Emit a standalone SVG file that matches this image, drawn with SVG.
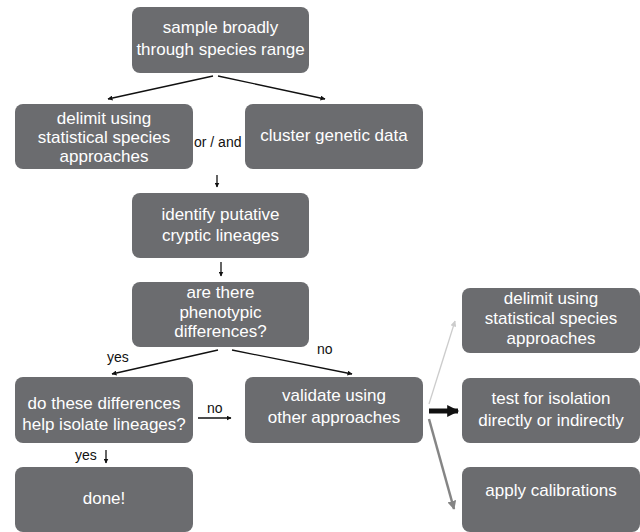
<svg xmlns="http://www.w3.org/2000/svg" width="640" height="532" viewBox="0 0 640 532">
<defs>
<style>
.box{fill:#6b6c6f;}
.t{font-family:"Liberation Sans",Arial,sans-serif;font-size:17px;fill:#ffffff;text-anchor:middle;}
.lbl{font-family:"Liberation Sans",Arial,sans-serif;font-size:14px;fill:#111111;}
.ln{stroke:#111111;stroke-width:1.3;fill:none;}
</style>
<marker id="ah" viewBox="0 0 10 10" refX="9" refY="5" markerWidth="5" markerHeight="5" markerUnits="userSpaceOnUse" orient="auto"><path d="M0,0 L10,5 L0,10 z" fill="#111111"/></marker>
<marker id="ahl" viewBox="0 0 10 10" refX="9" refY="5" markerWidth="6" markerHeight="6" markerUnits="userSpaceOnUse" orient="auto"><path d="M0,0 L10,5 L0,10 z" fill="#cccccc"/></marker>
<marker id="ahm" viewBox="0 0 10 10" refX="9" refY="5" markerWidth="9" markerHeight="9" markerUnits="userSpaceOnUse" orient="auto"><path d="M0,0 L10,5 L0,10 z" fill="#858585"/></marker>
<marker id="ahb" viewBox="0 0 10 10" refX="9" refY="5" markerWidth="14" markerHeight="12" markerUnits="userSpaceOnUse" orient="auto"><path d="M0,0 L10,5 L0,10 z" fill="#111111"/></marker>
</defs>
<rect width="640" height="532" fill="#ffffff"/>

<g id="n-sample"><rect class="box" x="132" y="7" width="177" height="66" rx="8"/>
<text class="t" x="220.5" y="33">sample broadly</text><text class="t" x="220.5" y="55">through species range</text></g>

<g id="n-delimit1"><rect class="box" x="15" y="104" width="178" height="65" rx="8"/>
<text class="t" x="104" y="124">delimit using</text><text class="t" x="104" y="143">statistical species</text><text class="t" x="104" y="162">approaches</text></g>

<g id="n-cluster"><rect class="box" x="245" y="104" width="178" height="65" rx="8"/>
<text class="t" x="334" y="141">cluster genetic data</text></g>

<g id="n-identify"><rect class="box" x="132" y="193" width="177" height="65" rx="8"/>
<text class="t" x="220.5" y="220">identify putative</text><text class="t" x="220.5" y="241">cryptic lineages</text></g>

<g id="n-pheno"><rect class="box" x="132" y="282" width="177" height="65" rx="8"/>
<text class="t" x="220.5" y="298">are there</text><text class="t" x="220.5" y="318">phenotypic</text><text class="t" x="220.5" y="337">differences?</text></g>

<g id="n-dothese"><rect class="box" x="15" y="377" width="178" height="66" rx="8"/>
<text class="t" x="104" y="409">do these differences</text><text class="t" x="104" y="430">help isolate lineages?</text></g>

<g id="n-validate"><rect class="box" x="245" y="377" width="178" height="66" rx="8"/>
<text class="t" x="334" y="401">validate using</text><text class="t" x="334" y="423">other approaches</text></g>

<g id="n-done"><rect class="box" x="15" y="467" width="178" height="65" rx="8"/>
<text class="t" x="104" y="504">done!</text></g>

<g id="n-delimit2"><rect class="box" x="462" y="288" width="178" height="65" rx="8"/>
<text class="t" x="551" y="304">delimit using</text><text class="t" x="551" y="324">statistical species</text><text class="t" x="551" y="344">approaches</text></g>

<g id="n-test"><rect class="box" x="462" y="378" width="178" height="65" rx="8"/>
<text class="t" x="551" y="404">test for isolation</text><text class="t" x="551" y="426">directly or indirectly</text></g>

<g id="n-apply"><rect class="box" x="462" y="467" width="178" height="65" rx="8"/>
<text class="t" x="551" y="496">apply calibrations</text></g>

<g id="connectors">
<line class="ln" x1="213" y1="76" x2="108" y2="99" marker-end="url(#ah)"/>
<line class="ln" x1="218" y1="76" x2="325" y2="99" marker-end="url(#ah)"/>
<line class="ln" x1="217" y1="175" x2="217" y2="187" marker-end="url(#ah)"/>
<line class="ln" x1="221" y1="262" x2="221" y2="276" marker-end="url(#ah)"/>
<line class="ln" x1="218" y1="350" x2="112" y2="374" marker-end="url(#ah)"/>
<line class="ln" x1="232" y1="350" x2="352" y2="374" marker-end="url(#ah)"/>
<line class="ln" x1="198" y1="418" x2="231" y2="418" marker-end="url(#ah)"/>
<line class="ln" x1="106" y1="450" x2="106" y2="463" marker-end="url(#ah)"/>
<line x1="429" y1="404" x2="455" y2="321" stroke="#cccccc" stroke-width="1.3" marker-end="url(#ahl)"/>
<line x1="429" y1="419" x2="454" y2="509" stroke="#858585" stroke-width="2.5" marker-end="url(#ahm)"/>
<line x1="429" y1="411" x2="458" y2="411" stroke="#111111" stroke-width="5" marker-end="url(#ahb)"/>
<text class="lbl" x="194" y="147">or / and</text>
<text class="lbl" x="107" y="362">yes</text>
<text class="lbl" x="317" y="354">no</text>
<text class="lbl" x="207" y="413">no</text>
<text class="lbl" x="75" y="460">yes</text>
</g>
</svg>
